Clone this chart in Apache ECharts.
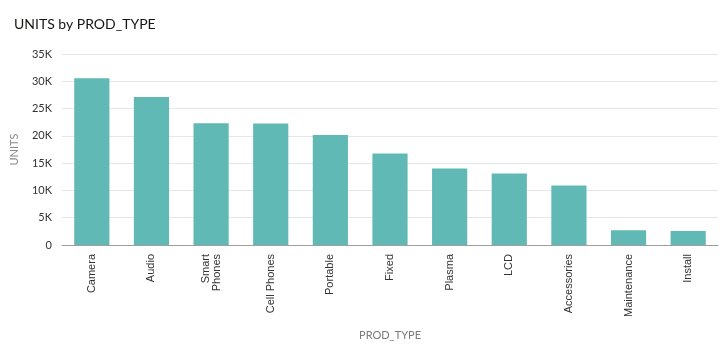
<!DOCTYPE html>
<html>
<head>
<meta charset="utf-8">
<script src="https://cdn.jsdelivr.net/npm/echarts@6/dist/echarts.min.js"></script>
<style>html,body{margin:0;padding:0;background:#fff;}#c{width:726px;height:363px;}</style>
</head>
<body>
<div id="c"></div>
<script>
const categories = ["Camera","Audio","Smart Phones","Cell Phones","Portable","Fixed","Plasma","LCD","Accessories","Maintenance","Install"];
const units = [30550, 27100, 22300, 22250, 20150, 16750, 14000, 13100, 10900, 2700, 2550];
const yTicks = [0, 5000, 10000, 15000, 20000, 25000, 30000, 35000];
const wrapLabels = {"Smart Phones": "Smart\nPhones"};

const chart = echarts.init(document.getElementById('c'), null, {renderer: 'canvas'});
chart.setOption({
  animation: false,
  title: {
    text: 'UNITS by PROD_TYPE', left: 9, top: 12,
    textStyle: {fontFamily: 'Lato', fontSize: 14, fontWeight: 'normal', color: '#161513'}
  },
  grid: {left: 62, right: 8, top: 54, bottom: 118, containLabel: false},
  xAxis: {
    type: 'category', data: categories,
    name: 'PROD_TYPE', nameLocation: 'middle', nameGap: 85,
    nameTextStyle: {fontFamily: 'Lato', fontSize: 11, color: '#7a7a7a'},
    axisLine: {lineStyle: {color: '#9e9e9e', width: 1}},
    axisTick: {show: false},
    axisLabel: {
      rotate: 90, margin: 9, interval: 0,
      fontFamily: 'Liberation Sans', fontSize: 11, color: '#333',
      formatter: v => wrapLabels[v] || v
    }
  },
  yAxis: {
    type: 'value', min: yTicks[0], max: yTicks[yTicks.length - 1], interval: 5000,
    name: 'UNITS', nameLocation: 'middle', nameGap: 42,
    nameTextStyle: {fontFamily: 'Lato', fontSize: 11, color: '#8a8a8a'},
    axisLine: {show: false}, axisTick: {show: false},
    axisLabel: {
      margin: 10, fontFamily: 'Lato', fontSize: 11, color: '#333',
      formatter: v => v === 0 ? '0' : (v / 1000) + 'K'
    },
    splitLine: {lineStyle: {color: '#e6e7ea', width: 1}}
  },
  series: [{
    type: 'bar', data: units, barWidth: '59%',
    itemStyle: {color: '#60b9b5'}
  }]
});
</script>
</body>
</html>
